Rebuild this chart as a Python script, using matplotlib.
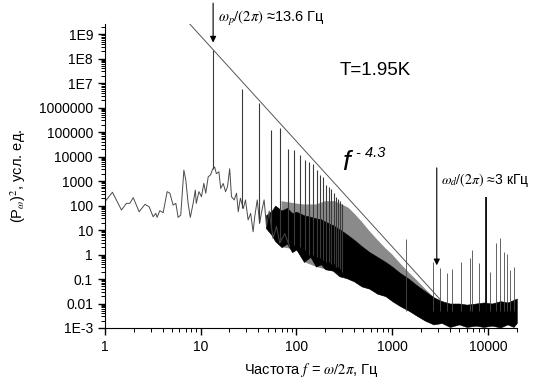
import matplotlib
matplotlib.use("Agg")
import matplotlib.pyplot as plt
from matplotlib.ticker import LogLocator, NullFormatter

plt.rcParams['font.family'] = ['Liberation Sans', 'DejaVu Sans']
plt.rcParams['mathtext.fontset'] = 'stix'
plt.rcParams['hatch.linewidth'] = 0.7

# --- low-frequency trace (Hz, arb. units) ---
trace_f = [1.0, 1.2, 1.49, 1.68, 1.82, 1.98, 2.28, 2.62, 2.9, 3.19, 3.4, 3.51, 3.75, 4.06,
           4.47, 4.77, 5.16, 5.51, 5.82, 6.2, 6.68, 7.0, 7.4, 7.8, 8.35, 8.8, 9.0, 9.6,
           10.2, 10.8, 11.3, 12.0, 12.7, 13.3, 14.0, 14.6, 15.5, 16.2, 17.2, 18.2, 19.1,
           20.1, 21.0, 22.4, 23.7, 24.7, 26.0, 27.9, 29.4, 31.3, 33.3, 35.3, 36.7, 39.0,
           41.3, 43.7, 46.0, 48.7, 52.0, 57.0, 61.9, 67.0, 75.5, 85.0]
trace_p = [143, 350, 66, 123, 123, 210, 56, 112, 89, 35, 48, 33, 62, 51,
           370, 320, 105, 123, 33, 41, 2800, 1100, 123, 33, 123, 430, 123, 370,
           230, 810, 320, 1500, 1800, 3000, 3800, 2000, 2400, 500, 800, 370, 600,
           3200, 230, 170, 320, 56, 200, 76, 170, 26, 48, 8.5, 35, 170,
           19, 66, 170, 14, 60, 4.6, 14, 2.9, 7.2, 2.1]

# --- dense noise band: lower / upper envelope ---
band_f = [48, 55, 60, 70, 80, 90, 100, 120, 140, 160, 180, 200, 240, 280, 330, 400, 480,
          580, 700, 850, 1000, 1200, 1500, 1800, 2200, 2700, 3300, 4000, 5000, 6000, 7500,
          9000, 11000, 13500, 16000, 18500, 20000]
band_lo = [12, 6.3, 3.5, 2.0, 2.8, 1.25, 1.6, 0.5, 0.8, 0.32, 0.4, 0.25, 0.22, 0.13, 0.11,
           0.08, 0.05, 0.04, 0.025, 0.02, 0.0125, 0.008, 0.005, 0.0032, 0.002, 0.0014,
           0.0016, 0.0011, 0.0014, 0.0011, 0.00125, 0.0011, 0.00125, 0.00105, 0.0014,
           0.0011, 0.0016]
band_hi = [40, 60, 100, 63, 80, 50, 56, 40, 35, 30, 28, 22, 16, 11, 7, 4, 2.2, 1.25,
           0.8, 0.5, 0.32, 0.18, 0.1, 0.056, 0.032, 0.018, 0.0125, 0.01, 0.01, 0.009, 0.01,
           0.011, 0.01, 0.0125, 0.011, 0.014, 0.016]

# --- grey halo of dense harmonics near the f^-4.3 line ---
halo_f = [70, 100, 120, 160, 200, 250, 300, 350, 400, 480, 580, 700, 850, 1000, 1200,
          1500, 1800, 2200, 2700, 3000]
halo_lo = [2.0, 1.6, 0.5, 0.32, 0.25, 0.2, 0.13, 0.11, 0.08, 0.05, 0.04, 0.025, 0.02,
           0.0125, 0.008, 0.005, 0.0032, 0.002, 0.0014, 0.0016]
halo_hi = [150, 120, 110, 110, 150, 150, 110, 80, 48, 22, 9, 4, 1.8, 1.0, 0.45, 0.18,
           0.09, 0.04, 0.018, 0.014]

# --- harmonics of 13.6 Hz ---
harm_f = [13.6, 27.2, 40.8, 54.4, 68.0, 81.6, 95.2, 108.8, 122.4, 136.0, 149.6, 163.2,
          176.8, 190.4, 204.0, 217.6, 231.2, 244.8, 258.4, 272.0, 285.6, 299.2]
harm_top = [2.2e8, 6e6, 1.5e6, 1.2e5, 1.5e5, 2.1e4, 1.9e4, 1.15e4, 7.2e3, 6.2e3, 5.2e3,
            2.8e3, 1.7e3, 1.5e3, 700, 600, 470, 320, 230, 190, 150, 120]
harm_base = [3000, 76, 19, 12, 4, 3, 2.5, 2, 1.5, 1, 1, 0.8, 0.7, 0.6, 0.5, 0.5, 0.4,
             0.4, 0.3, 0.3, 0.25, 0.2]

# --- high-frequency peaks ---
hf_f = [1400, 2670, 3140, 3740, 4260, 5170, 6560, 6890, 8080, 9480, 10440, 12030, 13270,
        14600, 15840, 17180, 18600]
hf_top = [4.2, 0.5, 0.27, 0.17, 0.25, 0.5, 0.7, 1.5, 0.44, 230, 0.2, 2.9, 4.6, 1.3, 1.1,
          0.23, 0.32]

# --- power-law fit line endpoints ---
fit_f = [7.7, 3150]
fit_p = [2.6e9, 1.5e-2]

y_ticks = [1e-3, 1e-2, 1e-1, 1, 10, 100, 1e3, 1e4, 1e5, 1e6, 1e7, 1e8, 1e9]
y_labels = ['1E-3', '0.01', '0.1', '1', '10', '100', '1000', '10000', '100000',
            '1000000', '1E7', '1E8', '1E9']
x_ticks = [1, 10, 100, 1000, 10000]
x_labels = ['1', '10', '100', '1000', '10000']

fig = plt.figure(figsize=(5.35, 3.79), dpi=100)
ax = fig.add_axes([0.196, 0.1346, 0.770, 0.802])
ax.set_xscale('log')
ax.set_yscale('log')
ax.set_xlim(1, 20000)
ax.set_ylim(1e-3, 2.6e9)

ax.fill_between(halo_f, halo_lo, halo_hi, facecolor='#dadada', edgecolor='#8a8a8a',
                hatch='|' * 22, lw=0)
ax.fill_between(band_f, band_lo, band_hi, color='black', lw=0.4, edgecolor='black')
ax.plot(trace_f, trace_p, color='#4a4a4a', lw=0.7)
ax.vlines(harm_f, harm_base, harm_top, colors='#3a3a3a', lw=0.8)
ax.vlines(hf_f, 0.005, hf_top, colors='#4a4a4a', lw=0.6)
ax.vlines([9480], 0.003, [230], colors='black', lw=1.2)
ax.plot(fit_f, fit_p, color='#555555', lw=0.7)

# axes styling (Origin-like)
for s in ['top', 'right']:
    ax.spines[s].set_visible(False)
ax.set_yticks(y_ticks, y_labels)
ax.set_xticks(x_ticks, x_labels)
ax.yaxis.set_minor_locator(LogLocator(base=10, subs=range(2, 10), numticks=30))
ax.xaxis.set_minor_locator(LogLocator(base=10, subs=range(2, 10), numticks=30))
ax.yaxis.set_minor_formatter(NullFormatter())
ax.xaxis.set_minor_formatter(NullFormatter())
ax.tick_params(which='major', direction='out', length=5, width=1, labelsize=10)
ax.tick_params(which='minor', direction='out', length=3, width=0.7)

ax.set_xlabel(r'Частота $f$ = $\omega/2\pi$, Гц', fontsize=10.5, labelpad=5)
ax.set_ylabel(r'(P$_\omega$)$^2$, усл. ед.', fontsize=10.5, labelpad=8)

# annotations
arrow = dict(arrowstyle='-|>', color='black', lw=0.8, mutation_scale=9)
ax.annotate('', xy=(13.5, 3.5e8), xytext=(13.5, 2.4e10), arrowprops=arrow,
            annotation_clip=False)
ax.text(15.1, 4.5e9, r'$\omega_p/(2\pi)$ ≈13.6 Гц', fontsize=10.5, va='center',
        clip_on=False)
ax.annotate('', xy=(2920, 0.28), xytext=(2920, 4.5e3), arrowprops=arrow)
ax.text(3210, 1.1e3, r'$\omega_d/(2\pi)$ ≈3 кГц', fontsize=10, va='center')
ax.text(284, 3.4e7, 'T=1.95K', fontsize=13.5, va='center')
ax.text(298, 2.8e3, 'f', fontsize=20, fontstyle='italic')
ax.text(420, 1.0e4, '- 4.3', fontsize=10.5, fontstyle='italic')

fig.savefig('out.png', dpi=100)
